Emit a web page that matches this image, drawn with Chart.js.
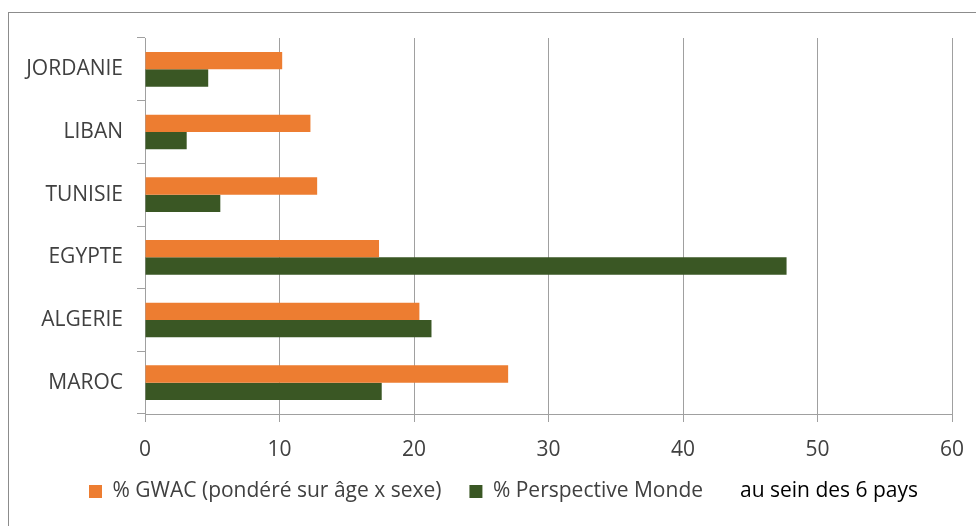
<!DOCTYPE html>
<html lang="fr">
<head>
<meta charset="utf-8">
<title>GWAC vs Perspective Monde</title>
<script src="https://cdn.jsdelivr.net/npm/chart.js@4.4.1/dist/chart.umd.min.js"></script>
<style>
  html, body { margin: 0; padding: 0; background: #fff; }
  #wrap { position: relative; width: 976px; height: 526px; overflow: hidden; }
  #frame { position: absolute; left: 8px; top: 12px; width: 1200px; height: 800px;
           border: 1px solid #8c8c8c; box-sizing: border-box; }
  #chart { position: absolute; left: 0; top: 0; }
</style>
</head>
<body>
<div id="wrap">
  <div id="frame"></div>
  <canvas id="chart" width="976" height="526"></canvas>
</div>
<script>
// Countries, top to bottom
const countries = ['JORDANIE', 'LIBAN', 'TUNISIE', 'EGYPTE', 'ALGERIE', 'MAROC'];

// Share of each country (%) within the six countries
const gwacShare = [10.2, 12.3, 12.8, 17.4, 20.4, 27.0];
const perspectiveShare = [4.7, 3.1, 5.6, 47.7, 21.3, 17.6];

const seriesNames = ['% GWAC (pondéré sur âge x sexe)', '% Perspective Monde'];
const legendNote = 'au sein des 6 pays';

const xTicks = [0, 10, 20, 30, 40, 50, 60];

const FONT = 'Open Sans';
const FONT_SIZE = 21;
const GRID = '#a0a0a0';
const TEXT = '#404040';

// Moves the legend row so it starts under the category labels
const legendShiftPlugin = {
  id: 'legendShift',
  afterLayout(chart) {
    const lg = chart.legend;
    if (!lg) return;
    lg.left += 51;
    lg.right += 51;
    lg.top -= 14;
    lg.bottom -= 14;
  }
};

// Writes the closing note right after the last legend entry
const legendNotePlugin = {
  id: 'legendNote',
  afterDraw(chart) {
    const lg = chart.legend;
    if (!lg || !lg.legendHitBoxes || !lg.legendHitBoxes.length) return;
    const last = lg.legendHitBoxes[lg.legendHitBoxes.length - 1];
    const ctx = chart.ctx;
    ctx.save();
    ctx.font = FONT_SIZE + 'px "' + FONT + '"';
    ctx.fillStyle = '#000';
    ctx.textBaseline = 'middle';
    ctx.textAlign = 'left';
    ctx.fillText(legendNote, last.left + last.width + 37, last.top + last.height / 2);
    ctx.restore();
  }
};

new Chart(document.getElementById('chart'), {
  type: 'bar',
  data: {
    labels: countries,
    datasets: [
      { label: seriesNames[0], data: gwacShare, backgroundColor: '#ED7D31' },
      { label: seriesNames[1], data: perspectiveShare, backgroundColor: '#3A5724' }
    ]
  },
  options: {
    indexAxis: 'y',
    responsive: false,
    animation: false,
    events: [],
    categoryPercentage: 0.552,
    barPercentage: 1.0,
    layout: { padding: { left: 10, right: 24, top: 38, bottom: 0 } },
    plugins: {
      tooltip: { enabled: false },
      legend: {
        position: 'bottom',
        align: 'start',
        labels: {
          boxWidth: 13,
          boxHeight: 13,
          padding: 28,
          color: TEXT,
          font: { family: FONT, size: FONT_SIZE }
        }
      }
    },
    scales: {
      x: {
        min: 0,
        max: 60,
        afterBuildTicks(scale) { scale.ticks = xTicks.map(v => ({ value: v })); },
        afterFit(scale) {
          scale.height = 53;
          scale.paddingLeft = 0;
          scale.paddingRight = 0;
        },
        grid: { color: GRID, lineWidth: 1, tickLength: 8, drawTicks: true },
        border: { display: true, color: GRID, width: 1 },
        ticks: { color: TEXT, padding: 15, font: { family: FONT, size: FONT_SIZE }, maxRotation: 0 }
      },
      y: {
        afterFit(scale) { scale.width = 135; },
        grid: { offset: true, drawOnChartArea: false, drawTicks: true, tickLength: 8, color: GRID },
        border: { display: true, color: GRID, width: 1 },
        ticks: { color: TEXT, padding: 14, font: { family: FONT, size: FONT_SIZE } }
      }
    }
  },
  plugins: [legendShiftPlugin, legendNotePlugin]
});
</script>
</body>
</html>
